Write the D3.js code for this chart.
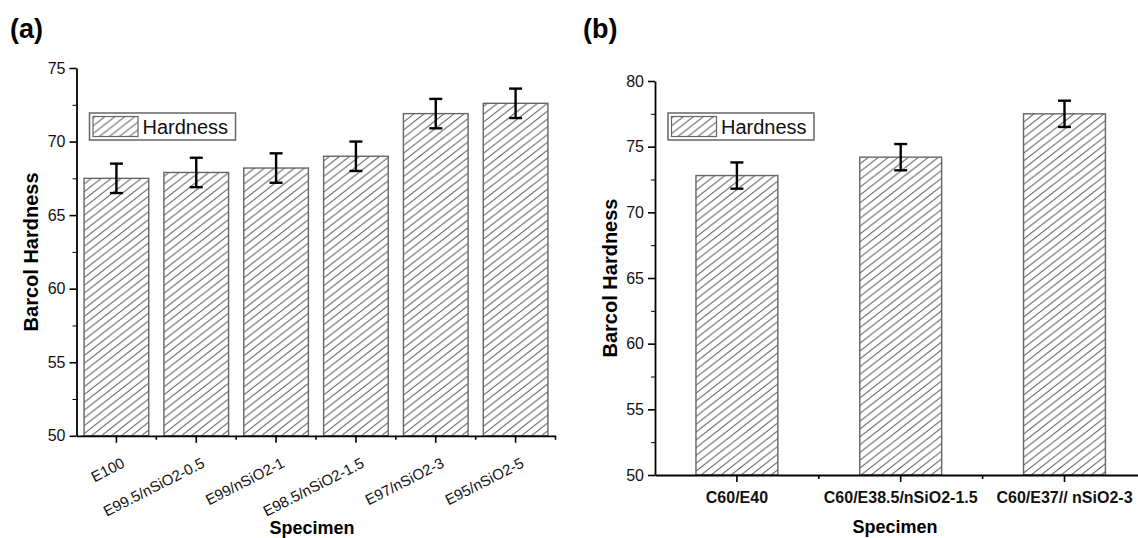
<!DOCTYPE html>
<meta charset="utf-8"/>
<title>Barcol Hardness</title>
<script src="https://d3js.org/d3.v7.min.js"></script>
<style>
  body { margin: 0; background: #fff; }
  svg { font-family: "Liberation Sans", Arial, sans-serif; }
</style>
<svg width="1138" height="538"></svg>
<script>
  // panel (a): neat epoxy / nano-silica
  const catsA = ["E100", "E99.5/nSiO2-0.5", "E99/nSiO2-1", "E98.5/nSiO2-1.5", "E97/nSiO2-3", "E95/nSiO2-5"];
  const hardA = [67.5, 67.9, 68.2, 69.0, 71.9, 72.6];
  const errA = [1.0, 1.0, 1.0, 1.0, 1.0, 1.0];
  const ticksA = [50, 55, 60, 65, 70, 75];

  // panel (b): carbon fibre composites
  const catsB = ["C60/E40", "C60/E38.5/nSiO2-1.5", "C60/E37// nSiO2-3"];
  const hardB = [72.8, 74.2, 77.5];
  const errB = [1.0, 1.0, 1.0];
  const ticksB = [50, 55, 60, 65, 70, 75, 80];

  const svg = d3.select("svg");

  // hatch fill used by the bars and the legend swatch
  svg.append("defs").append("pattern")
    .attr("id", "hatch")
    .attr("patternUnits", "userSpaceOnUse")
    .attr("width", 10).attr("height", 7.8)
    .append("path")
    .attr("d", "M0,7.8L10,0M-3,2.34L3,-2.34M7,10.14L13,5.46")
    .style("stroke", "#666").style("stroke-width", 1).style("fill", "none");

  function panel(o) {
    const x = d3.scaleBand().domain(o.cats).range(o.xr)
      .paddingInner(o.pad).paddingOuter(o.pad / 2);
    const y = d3.scaleLinear().domain(o.yd).range(o.yr);
    const g = svg.append("g");
    const data = o.cats.map((c, i) => ({c: c, v: o.vals[i], e: o.errs[i]}));

    // bars
    g.selectAll("rect.bar").data(data).enter().append("rect")
      .attr("class", "bar")
      .attr("x", d => x(d.c)).attr("width", x.bandwidth())
      .attr("y", d => y(d.v)).attr("height", d => y(o.yd[0]) - y(d.v))
      .style("fill", "url(#hatch)").style("stroke", "#666").style("stroke-width", 1.4);

    // error bars
    const eb = g.selectAll("g.err").data(data).enter().append("g")
      .attr("transform", d => "translate(" + (x(d.c) + x.bandwidth() / 2) + ",0)")
      .style("stroke", "#000").style("stroke-width", 2.4);
    eb.append("line").attr("y1", d => y(d.v + d.e)).attr("y2", d => y(d.v - d.e));
    eb.append("line").attr("x1", -6.5).attr("x2", 6.5)
      .attr("y1", d => y(d.v + d.e)).attr("y2", d => y(d.v + d.e));
    eb.append("line").attr("x1", -6.5).attr("x2", 6.5)
      .attr("y1", d => y(d.v - d.e)).attr("y2", d => y(d.v - d.e));

    // y axis, major and minor ticks
    const minor = [];
    for (let i = 0; i < o.yticks.length - 1; i++) minor.push((o.yticks[i] + o.yticks[i + 1]) / 2);
    g.append("g").attr("transform", "translate(" + o.xr[0] + ",0)")
      .call(d3.axisLeft(y).tickValues(minor).tickSize(4).tickSizeOuter(0).tickFormat(""))
      .call(a => a.select(".domain").remove());
    const ya = g.append("g").attr("transform", "translate(" + o.xr[0] + ",0)")
      .call(d3.axisLeft(y).tickValues(o.yticks).tickSize(7).tickSizeOuter(0).tickPadding(4));
    ya.selectAll("text").style("font-size", "16px").style("fill", "#111");

    // x axis
    const bounds = o.cats.map(c => x(c) + x.bandwidth() / 2 - x.step() / 2);
    bounds.push(x(o.cats[o.cats.length - 1]) + x.bandwidth() / 2 + x.step() / 2);
    g.selectAll("line.mx").data(bounds.slice(1)).enter().append("line")
      .attr("x1", d => d).attr("x2", d => d)
      .attr("y1", y(o.yd[0])).attr("y2", y(o.yd[0]) + 4)
      .style("stroke", "#000").style("stroke-width", 1.6);
    const xa = g.append("g").attr("transform", "translate(0," + y(o.yd[0]) + ")")
      .call(d3.axisBottom(x).tickSize(7).tickSizeOuter(0));
    if (o.rotate) {
      xa.selectAll("text")
        .attr("text-anchor", "end")
        .attr("y", 0).attr("dy", "0.35em")
        .attr("transform", "translate(7,26) rotate(-27)")
        .style("font-size", "15px");
    } else {
      xa.selectAll("text").attr("y", 17).attr("dy", "0.71em")
        .style("font-size", "16px").style("font-weight", "bold");
    }
    xa.selectAll("text").style("fill", "#111");

    [ya, xa].forEach(a => {
      a.select(".domain").style("stroke-width", 1.8);
      a.selectAll(".tick line").style("stroke-width", 1.6);
    });

    // axis titles
    g.append("text")
      .attr("transform", "translate(" + o.ytx + "," + (o.yr[0] + o.yr[1]) / 2 + ") rotate(-90)")
      .attr("text-anchor", "middle").attr("dy", "0.35em")
      .style("font-size", "20px").style("font-weight", "bold")
      .text("Barcol Hardness");
    g.append("text")
      .attr("x", o.xtx).attr("y", o.xty)
      .attr("text-anchor", "middle")
      .style("font-size", "18px").style("font-weight", "bold")
      .text("Specimen");

    // panel letter
    g.append("text").attr("x", o.lx).attr("y", 38)
      .style("font-size", "27px").style("font-weight", "bold")
      .text(o.letter);

    // legend
    const lg = g.append("g").attr("transform", "translate(" + (o.xr[0] + 13) + ",113)");
    lg.append("rect").attr("width", 146).attr("height", 27)
      .style("fill", "#fff").style("stroke", "#666").style("stroke-width", 1.5);
    lg.append("rect").attr("x", 3.5).attr("y", 3.5).attr("width", 45).attr("height", 20)
      .style("fill", "url(#hatch)").style("stroke", "#666").style("stroke-width", 1.2);
    lg.append("text").attr("x", 53).attr("y", 20.5)
      .style("font-size", "20px").style("fill", "#111")
      .text("Hardness");
  }

  panel({
    letter: "(a)", lx: 10,
    cats: catsA, vals: hardA, errs: errA, yticks: ticksA,
    xr: [76.5, 555.5], yd: [50, 75], yr: [435.8, 68], pad: 0.19,
    rotate: true, ytx: 31, xtx: 312, xty: 534
  });
  panel({
    letter: "(b)", lx: 583,
    cats: catsB, vals: hardB, errs: errB, yticks: ticksB,
    xr: [655, 1146.4], yd: [50, 80], yr: [475, 81], pad: 0.5,
    rotate: false, ytx: 610, xtx: 895, xty: 533
  });
</script>
